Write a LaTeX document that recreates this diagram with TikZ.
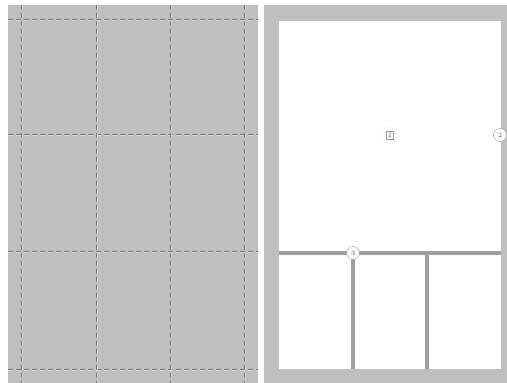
\documentclass[tikz,border=0pt]{standalone}
\usepackage{tikz}
\usetikzlibrary{positioning}

\tikzset{
	gridline/.style={draw=black!55, line width=0.8pt, dash pattern=on 5pt off 3pt, double=black!15, double distance=0.8pt},
	divider/.style={draw=gray!75, line width=4.5pt},
	marker/.style={circle, draw=gray!80, fill=white, inner sep=0.5pt, minimum size=13pt, font=\scriptsize, text=gray!60!black},
	boxmark/.style={rectangle, draw=gray!80, inner sep=1.4pt, font=\scriptsize, text=gray!60!black},
}

\begin{document}
\begin{tikzpicture}[x=1pt, y=-1pt]
		% --- Geometry Defs ---
		\def\Gx{8}
		\def\Gy{5}
		\def\Gw{258}
		\def\Px{264}
		\def\Ix{279}
		\def\Iy{21}
		\def\Iw{501}
		\def\Ih{369}
		\def\Split{253}
		
		\useasboundingbox[fill=white] (0,0) rectangle (507,383);
		
		% --- Left Panel (grid) ---
		\fill[black!25] (\Gx,\Gy) rectangle (\Gw,383);
		\foreach \yy in {20,135,252,370}
			\draw[gridline] (\Gx,\yy) -- (\Gw,\yy);
		\foreach \xx in {22,97,171,245}
			\draw[gridline] (\xx,\Gy) -- (\xx,383);
		
		% --- Right Panel (layout) ---
		\fill[black!25] (\Px,\Gy) rectangle (507,383);
		\fill[white] (\Ix,\Iy) rectangle (\Iw,\Ih);
		
		% Dividers
		\draw[divider] (\Ix,\Split) -- (\Iw,\Split);
		\draw[divider, line width=4pt] (353,\Split) -- (353,\Ih);
		\draw[divider, line width=4pt] (427,\Split) -- (427,\Ih);
		
		% Markers
		\node[marker, draw=gray!30, densely dotted, minimum size=17pt] (mainarea) at (390,135) {};
		\node[boxmark] (mainlabel) at (mainarea) {1};
		\node[marker] (rightedge) at (500,135) {2};
		\node[marker] (splitpoint) at (353,\Split) {3};
		
	\end{tikzpicture}
\end{document}
